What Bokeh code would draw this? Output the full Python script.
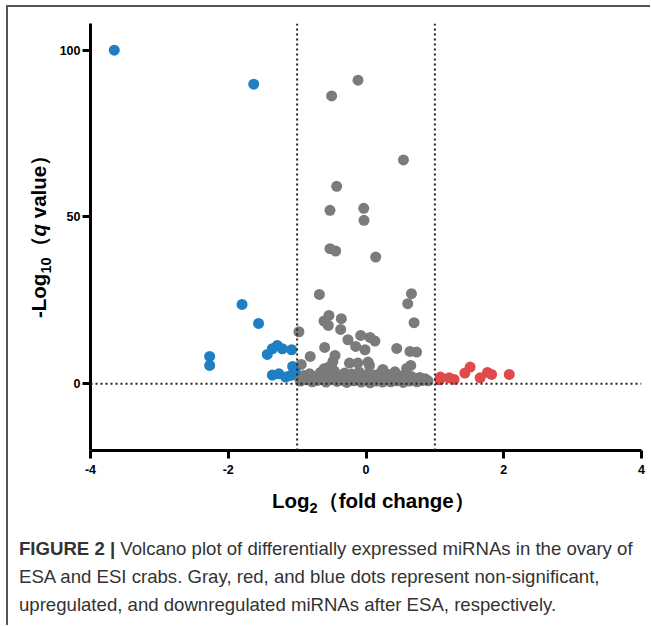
from bokeh.plotting import figure
from bokeh.models import Span, Div, FixedTicker
from bokeh.layouts import column, row
from bokeh.embed import file_html
from bokeh.resources import INLINE

# ---------------- data ----------------
x_ticks = [-4, -2, 0, 2, 4]
y_ticks = [0, 50, 100]
fc_cut = [-1.0, 1.0]
q_base = 0.0

down_x = [-3.655, -1.63, -1.80, -1.56, -2.27, -2.27, -1.433, -1.36, -1.288, -1.215,
          -1.08, -1.36, -1.265, -1.167, -1.094, -1.065, -1.03]
down_y = [100.0, 89.8, 23.8, 18.1, 8.2, 5.5, 8.8, 10.5, 11.5, 10.5,
          10.2, 2.6, 3.0, 2.0, 2.5, 5.2, 3.9]

up_x = [1.07, 1.08, 1.206, 1.279, 1.435, 1.512, 1.657, 1.764, 1.823, 2.08]
up_y = [1.2, 2.0, 1.8, 1.3, 3.2, 5.0, 1.8, 3.4, 2.8, 2.8]

ns_x = [-0.116, -0.499, 0.544, -0.426, -0.523, -0.033, -0.029, -0.523, -0.44, 0.141,
        -0.677, 0.66, 0.606, 0.698, -0.538, -0.61, -0.547, -0.358, -0.368, -0.974,
        -0.262, -0.077, 0.058, 0.13, -0.15, -0.015, -0.6, 0.446, 0.638, 0.735,
        -0.81, -0.45, -0.94, -0.48, -0.5, -0.24, -0.12, 0.03, 0.05, -0.61,
        -0.54, 0.245, 0.59, 0.65,
        -0.98, -0.95, -0.9, -0.86, -0.82, -0.78, -0.74, -0.7, -0.66, -0.62,
        -0.58, -0.55, -0.5, -0.46, -0.42, -0.38, -0.35, -0.31, -0.28, -0.25,
        -0.21, -0.18, -0.14, -0.1, -0.07, -0.03, 0.0, 0.03, 0.06, 0.09,
        0.12, 0.15, 0.18, 0.21, 0.24, 0.27, 0.3, 0.33, 0.36, 0.39,
        0.42, 0.45, 0.48, 0.51, 0.54, 0.57, 0.6, 0.63, 0.66, 0.7,
        0.74, 0.78, 0.82, 0.86, 0.9]
ns_y = [91.0, 86.3, 67.1, 59.2, 52.0, 52.6, 49.0, 40.5, 39.8, 38.0,
        26.8, 27.0, 24.0, 18.3, 20.5, 18.8, 17.5, 19.5, 16.3, 15.6,
        13.2, 14.5, 13.9, 12.8, 11.2, 10.2, 10.9, 10.6, 9.7, 9.5,
        8.2, 8.5, 5.8, 6.7, 5.5, 6.2, 6.2, 6.5, 5.5, 4.5,
        5.0, 4.3, 4.6, 5.5,
        2.0, 0.8, 2.5, 1.2, 3.0, 0.6, 2.2, 1.0, 3.4, 1.8,
        0.5, 2.8, 1.4, 3.8, 0.7, 2.4, 1.1, 3.2, 0.4, 1.9,
        2.9, 0.9, 1.6, 3.5, 0.5, 2.2, 1.0, 3.0, 0.3, 1.7,
        2.6, 0.8, 1.5, 3.3, 0.5, 2.0, 1.2, 2.8, 0.6, 1.8,
        3.6, 0.9, 2.4, 1.3, 0.4, 2.9, 1.6, 0.8, 2.2, 1.2,
        0.6, 1.9, 1.0, 1.5, 0.9]

# ---------------- styles ----------------
GRAY = "#7b7b7b"
BLUE = "#1f7fc3"
RED = "#df4a4a"
FONT = "Liberation Sans"
CSS_FONT = "'Liberation Sans', Arial, sans-serif"

p = figure(frame_width=551, frame_height=427, x_range=(-4, 4), y_range=(-20, 108),
           output_backend="svg", toolbar_location=None,
           min_border_left=38, min_border_right=9, min_border_top=16, min_border_bottom=32)
p.xgrid.visible = False
p.ygrid.visible = False
p.outline_line_color = None

for ax in (p.xaxis[0], p.yaxis[0]):
    ax.axis_line_width = 3
    ax.axis_line_color = "black"
    ax.major_tick_line_width = 3
    ax.major_tick_line_color = "black"
    ax.major_tick_out = 8
    ax.major_tick_in = 0
    ax.minor_tick_out = 0
    ax.minor_tick_in = 0
    ax.major_label_text_font = FONT
    ax.major_label_text_font_style = "bold"
    ax.major_label_text_font_size = "12.5px"
    ax.major_label_text_color = "black"
p.xaxis.ticker = FixedTicker(ticks=x_ticks)
p.yaxis.ticker = FixedTicker(ticks=y_ticks)
p.xaxis.major_label_overrides = {t: str(t) for t in x_ticks}
p.xaxis.major_label_standoff = 6
p.yaxis.major_label_standoff = 2

dots = dict(line_dash="2 3", line_width=2, line_color="#222222")
for v in fc_cut:
    p.add_layout(Span(location=v, dimension="height", **dots))
p.add_layout(Span(location=q_base, dimension="width", **dots))

p.scatter(ns_x, ns_y, size=11, color=GRAY, line_color=None)
p.scatter(down_x, down_y, size=11, color=BLUE, line_color=None)
p.scatter(up_x, up_y, size=11, color=RED, line_color=None)

FIG_H = 16 + 427 + 32

# y axis title (rotated HTML text)
ytitle = Div(
    text=(f'<div style="position:relative;width:44px;height:{FIG_H}px;">'
          f'<div style="position:absolute;left:19px;top:311px;transform-origin:0 0;'
          f'transform:rotate(-90deg);white-space:nowrap;font-family:{CSS_FONT};'
          f'font-weight:bold;font-size:20.5px;line-height:24px;color:#000;">'
          '-Log<span style="font-size:14.5px;position:relative;top:5px;">10</span>'
          '\uff08<i>q</i> value\uff09</div></div>'),
    width=44, height=FIG_H, margin=(0, 0, 0, 0))

# x axis title
xtitle = Div(
    text=(f'<div style="position:relative;width:642px;height:43px;">'
          f'<div style="position:absolute;left:264px;top:5px;white-space:nowrap;'
          f'font-family:{CSS_FONT};font-weight:bold;font-size:20.5px;line-height:28px;color:#000;">'
          'Log<span style="font-size:14.5px;position:relative;top:5px;">2</span>'
          '\uff08fold change\uff09</div></div>'),
    width=642, height=43, margin=(0, 0, 0, 0))

caption = Div(
    text="<b>FIGURE 2 |</b> Volcano plot of differentially expressed miRNAs in the ovary of<br>"
         "ESA and ESI crabs. Gray, red, and blue dots represent non-significant,<br>"
         "upregulated, and downregulated miRNAs after ESA, respectively.",
    width=642, margin=(0, 0, 0, 0),
    styles={"font-family": CSS_FONT, "font-size": "18.6px",
            "line-height": "28px", "color": "#333333", "white-space": "nowrap",
            "padding-left": "11px", "padding-top": "10px", "padding-bottom": "6px"})

layout = column(row(ytitle, p), xtitle, caption,
                styles={"border-left": "2px solid #555555", "border-top": "2px solid #555555",
                        "margin-left": "6px", "margin-top": "5px"})

open("out.html", "w").write(file_html(layout, INLINE))
